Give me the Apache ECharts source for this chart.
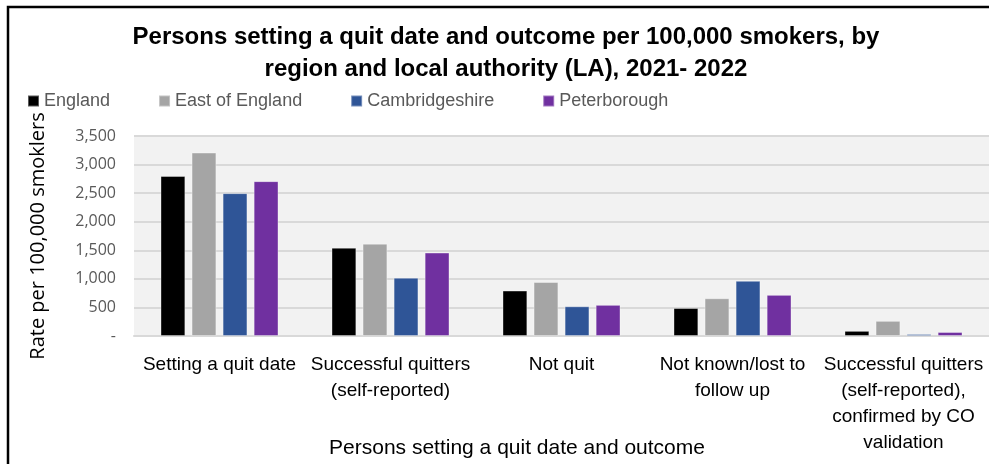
<!DOCTYPE html>
<html>
<head>
<meta charset="utf-8">
<script src="https://cdn.jsdelivr.net/npm/echarts@6/dist/echarts.min.js"></script>
<style>
  html, body { margin: 0; padding: 0; background: #ffffff; }
  #chart { width: 989px; height: 464px; }
</style>
</head>
<body>
<div id="chart"></div>
<script>
const categories = [
  'Setting a quit date',
  'Successful quitters\n(self-reported)',
  'Not quit',
  'Not known/lost to\nfollow up',
  'Successful quitters\n(self-reported),\nconfirmed by CO\nvalidation',
]
const seriesNames = ['England', 'East of England', 'Cambridgeshire', 'Peterborough']
const england = [2800, 1545, 795, 490, 90]
const eastOfEngland = [3210, 1615, 945, 660, 265]
const cambridgeshire = [2500, 1020, 520, 965, 35]
const peterborough = [2710, 1460, 545, 720, 70]
const yTicks = [0, 500, 1000, 1500, 2000, 2500, 3000, 3500]

const colors = ['#000000', '#a5a5a5', '#2f5597', '#7030a0']
const seriesValues = [england, eastOfEngland, cambridgeshire, peterborough]

const labelFont = "'Liberation Sans Narrow', 'Liberation Sans', sans-serif"
const tickFont = "'Open Sans', 'Noto Sans', sans-serif"

const chart = echarts.init(document.getElementById('chart'))

chart.setOption({
  backgroundColor: '#ffffff',
  animation: false,
  title: {
    text: 'Persons setting a quit date and outcome per 100,000 smokers, by\nregion and local authority (LA), 2021- 2022',
    left: 501,
    textAlign: 'center',
    top: 16,
    textStyle: {
      fontFamily: labelFont,
      fontWeight: 'bold',
      fontSize: 24,
      lineHeight: 32,
      color: '#000000',
    },
  },
  legend: {
    data: seriesNames,
    left: 22,
    top: 87,
    itemWidth: 11,
    itemHeight: 11,
    itemGap: 48,
    icon: 'rect',
    textStyle: {
      fontFamily: labelFont,
      fontSize: 18,
      color: '#595959',
    },
  },
  grid: {
    left: 134,
    right: -10,
    top: 136,
    bottom: 128,
    show: true,
    backgroundColor: '#f2f2f2',
    borderWidth: 0,
  },
  xAxis: {
    type: 'category',
    data: categories,
    axisLine: { lineStyle: { color: '#d9d9d9', width: 2 } },
    axisTick: { show: false },
    axisLabel: {
      interval: 0,
      margin: 16,
      fontFamily: labelFont,
      fontSize: 19,
      lineHeight: 26,
      color: '#000000',
    },
  },
  yAxis: {
    type: 'value',
    min: yTicks[0],
    max: yTicks[yTicks.length - 1],
    interval: 500,
    name: 'Rate per 100,000 smoklers',
    nameLocation: 'middle',
    nameGap: 86,
    nameRotate: 90,
    nameTextStyle: {
      fontFamily: tickFont,
      fontSize: 20,
      color: '#000000',
    },
    axisLine: { show: false },
    axisTick: { show: false },
    axisLabel: {
      margin: 18,
      fontFamily: tickFont,
      fontSize: 16,
      color: '#595959',
      formatter: (v) => (v === 0 ? '-' : v.toLocaleString('en-GB')),
    },
    splitLine: { lineStyle: { color: '#d9d9d9', width: 2 } },
  },
  graphic: [
    {
      type: 'rect',
      shape: { x: 8, y: 7, width: 1100, height: 600 },
      style: { fill: null, stroke: '#000000', lineWidth: 2.5 },
      z: 100,
    },
    {
      type: 'text',
      x: 517,
      y: 438,
      style: {
        text: 'Persons setting a quit date and outcome',
        textAlign: 'center',
        fontFamily: labelFont,
        fontSize: 21,
        fill: '#000000',
      },
    },
  ],
  series: seriesNames.map((name, i) => ({
    name,
    type: 'bar',
    data: seriesValues[i],
    barGap: '25%',
    barCategoryGap: '31%',
    itemStyle: {
      color: colors[i],
      borderColor: 'rgba(255,255,255,0.35)',
      borderWidth: 1,
    },
  })),
})
</script>
</body>
</html>
